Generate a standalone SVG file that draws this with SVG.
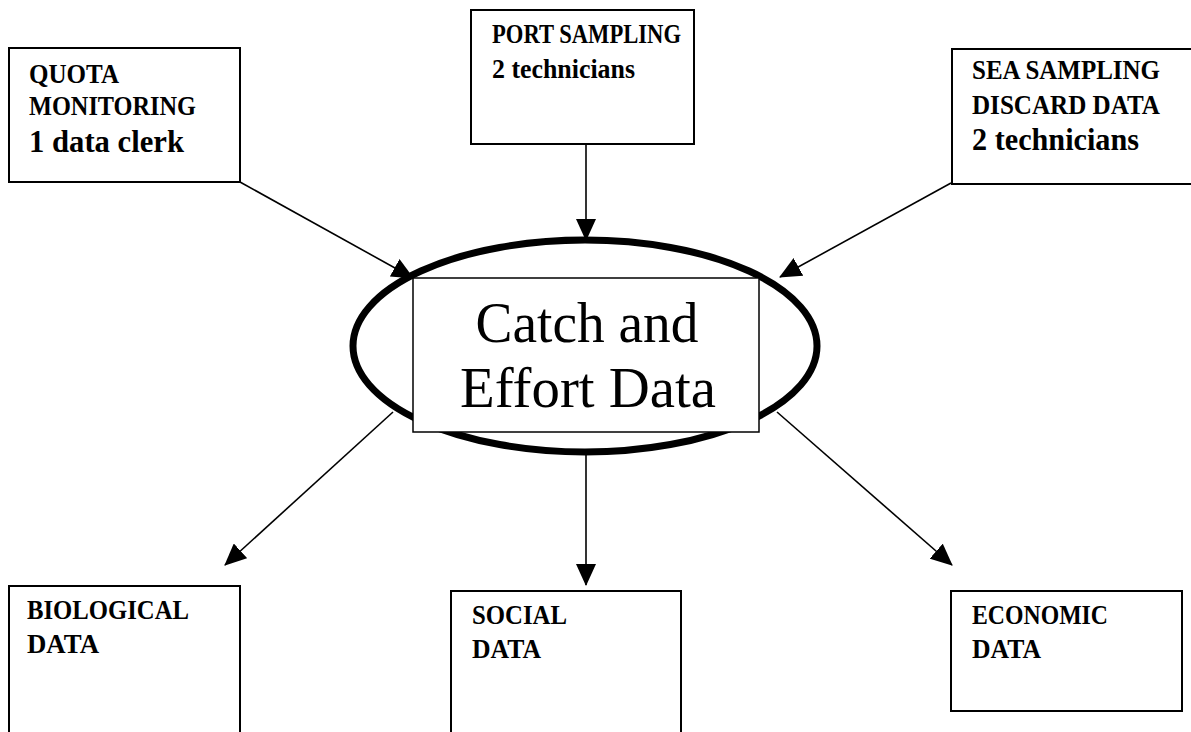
<svg xmlns="http://www.w3.org/2000/svg" width="1191" height="732" viewBox="0 0 1191 732">
<style>
.box{fill:#fff;stroke:#000;stroke-width:2}
.lbl{font-family:"Liberation Serif","Times New Roman",serif;font-weight:bold;font-size:27px;fill:#000}
.big{font-size:32px}
.ctr{font-family:"Liberation Serif","Times New Roman",serif;font-size:58px;fill:#000}
.conn{stroke:#000;stroke-width:1.6;fill:none;marker-end:url(#ah)}
</style>
<defs>
<marker id="ah" markerWidth="22" markerHeight="20" refX="21" refY="10" orient="auto" markerUnits="userSpaceOnUse" viewBox="0 0 22 20">
<path d="M0,0 L22,10 L0,20 Z" fill="#000"/>
</marker>
</defs>
<rect width="1191" height="732" fill="#fff"/>
<g id="quota">
<rect class="box" x="9" y="48" width="231" height="134"/>
<text class="lbl" x="29" y="83" textLength="90" lengthAdjust="spacingAndGlyphs">QUOTA</text>
<text class="lbl" x="29" y="115" textLength="167" lengthAdjust="spacingAndGlyphs">MONITORING</text>
<text class="lbl big" x="29" y="152" textLength="155" lengthAdjust="spacingAndGlyphs">1 data clerk</text>
</g>
<g id="port">
<rect class="box" x="471" y="10" width="223" height="134"/>
<text class="lbl" x="492" y="43" textLength="189" lengthAdjust="spacingAndGlyphs">PORT SAMPLING</text>
<text class="lbl" x="492" y="78" textLength="143" lengthAdjust="spacingAndGlyphs">2 technicians</text>
</g>
<g id="sea">
<rect class="box" x="952" y="49" width="260" height="135"/>
<text class="lbl" x="972" y="79" textLength="188" lengthAdjust="spacingAndGlyphs">SEA SAMPLING</text>
<text class="lbl" x="972" y="114" textLength="188" lengthAdjust="spacingAndGlyphs">DISCARD DATA</text>
<text class="lbl big" x="972" y="150" textLength="167" lengthAdjust="spacingAndGlyphs">2 technicians</text>
</g>
<g id="center">
<ellipse cx="585" cy="346" rx="232" ry="106" fill="#fff" stroke="#000" stroke-width="7"/>
<rect x="413" y="278" width="346" height="154" fill="#fff" stroke="#000" stroke-width="1.5"/>
<text class="ctr" x="587" y="342" text-anchor="middle" textLength="223" lengthAdjust="spacingAndGlyphs">Catch and</text>
<text class="ctr" x="588" y="407" text-anchor="middle" textLength="256" lengthAdjust="spacingAndGlyphs">Effort Data</text>
</g>
<g id="bio">
<rect class="box" x="9" y="586" width="231" height="160"/>
<text class="lbl" x="27" y="619" textLength="162" lengthAdjust="spacingAndGlyphs">BIOLOGICAL</text>
<text class="lbl" x="27" y="653" textLength="72" lengthAdjust="spacingAndGlyphs">DATA</text>
</g>
<g id="social">
<rect class="box" x="451" y="591" width="230" height="160"/>
<text class="lbl" x="472" y="624" textLength="95" lengthAdjust="spacingAndGlyphs">SOCIAL</text>
<text class="lbl" x="472" y="658" textLength="69" lengthAdjust="spacingAndGlyphs">DATA</text>
</g>
<g id="economic">
<rect class="box" x="951" y="591" width="231" height="120"/>
<text class="lbl" x="972" y="624" textLength="136" lengthAdjust="spacingAndGlyphs">ECONOMIC</text>
<text class="lbl" x="972" y="658" textLength="69" lengthAdjust="spacingAndGlyphs">DATA</text>
</g>
<g id="connectors">
<line class="conn" x1="240" y1="182" x2="413" y2="278"/>
<line class="conn" x1="586" y1="144" x2="586" y2="240"/>
<line class="conn" x1="951" y1="183" x2="780" y2="277"/>
<line class="conn" x1="393" y1="412" x2="225" y2="565"/>
<line class="conn" x1="586" y1="452" x2="586" y2="585"/>
<line class="conn" x1="777" y1="412" x2="952" y2="565"/>
</g>
</svg>
